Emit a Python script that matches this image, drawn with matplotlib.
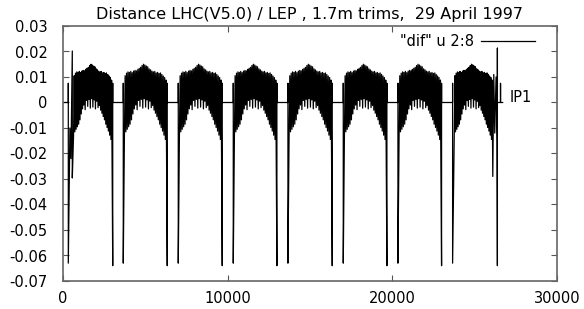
import matplotlib
matplotlib.use("Agg")
import matplotlib.pyplot as plt
import numpy as np

plt.rcParams['font.family'] = ['DejaVu Sans']
plt.rcParams['font.size'] = 10.5

# 图题与图例文字
title = 'Distance LHC(V5.0) / LEP , 1.7m trims,  29 April 1997'
series_label = '"dif" u 2:8'

# 一个弧段内的上包络和下包络
arc_top = [0.0105, 0.0115, 0.0120, 0.0118, 0.0122, 0.0117, 0.0123, 0.0126, 0.0124, 0.0130,
           0.0134, 0.0138, 0.0145, 0.0150, 0.0147, 0.0143, 0.0140, 0.0132, 0.0128, 0.0123,
           0.0120, 0.0122, 0.0116, 0.0118, 0.0114, 0.0116, 0.0110, 0.0104, 0.0098, 0.0088]
arc_bottom = [-0.0130, -0.0115, -0.0105, -0.0095, -0.0085, -0.0068, -0.0045, -0.0025, -0.0010, -0.0028,
              0.0008, -0.0015, 0.0012, -0.0022, 0.0015, -0.0018, 0.0010, -0.0025, 0.0005, -0.0020,
              -0.0012, -0.0030, -0.0042, -0.0055, -0.0068, -0.0085, -0.0098, -0.0112, -0.0128, -0.0145]

# 8个弧段的起止位置
arc_start = [640, 3730, 7070, 10410, 13730, 17090, 20410, 23760]
arc_end = [2950, 6260, 9600, 12920, 16280, 19600, 22920, 26060]

# 直线段 (两端有向下的尖峰)
ss_left = [3020, 6330, 9670, 12990, 16350, 19670, 22990]
ss_right = [3660, 7000, 10340, 13660, 17020, 20340, 23660]
ss_spike_top = 0.0075
ss_left_low = -0.064
ss_right_low = -0.063

# IP1 附近的起点和终点
head_x = [0, 322, 322, 322, 420, 480, 565, 565]
head_y = [0, 0, 0.0075, -0.063, -0.010, -0.022, 0.0202, -0.0296]
tail_x = [26100, 26160, 26220, 26300, 26360, 26380, 26380, 26380, 26570, 26570, 26570, 26700]
tail_y = [-0.029, 0.011, -0.012, 0.010, -0.015, -0.064, 0.0213, 0, 0, 0.0075, 0, 0]

yticks = [-0.07, -0.06, -0.05, -0.04, -0.03, -0.02, -0.01, 0, 0.01, 0.02, 0.03]
ytick_labels = ['-0.07', '-0.06', '-0.05', '-0.04', '-0.03', '-0.02', '-0.01', '0', '0.01', '0.02', '0.03']
xticks = [0, 10000, 20000, 30000]
xtick_labels = ['0', '10000', '20000', '30000']

# 拼出整条曲线
xs = list(head_x)
ys = list(head_y)
n = len(arc_top)
for k in range(len(arc_start)):
    px = np.linspace(arc_start[k], arc_end[k], 2 * n)
    for i in range(n):
        xs += [px[2 * i], px[2 * i + 1]]
        ys += [arc_bottom[i], arc_top[i]]
    if k < len(ss_left):
        xs += [ss_left[k], ss_left[k], ss_left[k], ss_right[k], ss_right[k], ss_right[k]]
        ys += [ss_left_low, ss_spike_top, 0, 0, ss_spike_top, ss_right_low]
xs += tail_x
ys += tail_y

fig = plt.figure(figsize=(5.84, 3.09), dpi=100)
ax = fig.add_axes([63/584, 28/309, 494/584, 255/309])
ax.plot(xs, ys, color='black', linewidth=0.9, label=series_label)

ax.set_xlim(0, 30000)
ax.set_ylim(-0.07, 0.03)
ax.set_xticks(xticks)
ax.set_xticklabels(xtick_labels)
ax.set_yticks(yticks)
ax.set_yticklabels(ytick_labels)
ax.tick_params(direction='in', length=4, width=0.8, color='#555555', top=True, right=True)
ax.tick_params(axis='x', pad=7)
ax.tick_params(axis='y', pad=11)
for s in ax.spines.values():
    s.set_color('#666666')
    s.set_linewidth(1.2)

ax.set_title(title, fontsize=11.5, pad=5)
ax.text(27140, 0.002, 'IP1', va='center', ha='left')

ax.legend(loc='center right', bbox_to_anchor=(535/584, 1 - 42/309), bbox_transform=fig.transFigure,
          frameon=False, markerfirst=False, handlelength=3.7, handletextpad=0.5,
          borderpad=0, borderaxespad=0)

fig.savefig('out.png', dpi=100)
